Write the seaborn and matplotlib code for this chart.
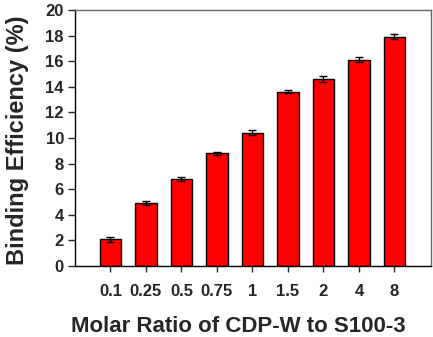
import pandas as pd
import matplotlib
matplotlib.use("Agg")
import matplotlib.pyplot as plt
import seaborn as sns

ratios = ["0.1", "0.25", "0.5", "0.75", "1", "1.5", "2", "4", "8"]
efficiency = [2.1, 4.9, 6.8, 8.8, 10.4, 13.6, 14.6, 16.1, 17.9]
errors = [0.2, 0.15, 0.15, 0.12, 0.2, 0.12, 0.25, 0.2, 0.2]

sns.set_style("white")
plt.rcParams['font.family'] = ['Liberation Sans', 'DejaVu Sans']
plt.rcParams['font.weight'] = 'bold'

df = pd.DataFrame({"ratio": ratios, "eff": efficiency})

fig = plt.figure(figsize=(4.33, 3.37), dpi=100)
ax = fig.add_axes([75/433, 1-266/337, (431-75)/433, (266-10)/337])

sns.barplot(data=df, x="ratio", y="eff", color="#ff0000", saturation=1,
            width=0.6, edgecolor="black", linewidth=1, ax=ax, errorbar=None)
ax.errorbar(range(len(ratios)), efficiency, yerr=errors, fmt="none",
            ecolor="black", elinewidth=1, capsize=3, capthick=1)

ax.set_xlim(-1, 9.03)
ax.set_ylim(0, 20)
ax.set_yticks(range(0, 21, 2))
ax.tick_params(axis="y", direction="out", length=5, width=1, labelsize=12, pad=3, left=True)
ax.tick_params(axis="x", direction="out", length=4, width=1, labelsize=12, pad=9, bottom=True)
for lbl in ax.get_xticklabels() + ax.get_yticklabels():
    lbl.set_fontweight("bold")

ax.set_xlabel("Molar Ratio of CDP-W to S100-3", fontsize=16, fontweight="bold")
ax.set_ylabel("Binding Efficiency (%)", fontsize=17, fontweight="bold")
ax.xaxis.set_label_coords(0.458, -0.195)
ax.yaxis.set_label_coords(-0.13, 0.49)

for side in ["left", "bottom"]:
    ax.spines[side].set_color("black")
    ax.spines[side].set_linewidth(1)
for side in ["top", "right"]:
    ax.spines[side].set_color("#666666")
    ax.spines[side].set_linewidth(1)

fig.savefig("out.png", dpi=100)
